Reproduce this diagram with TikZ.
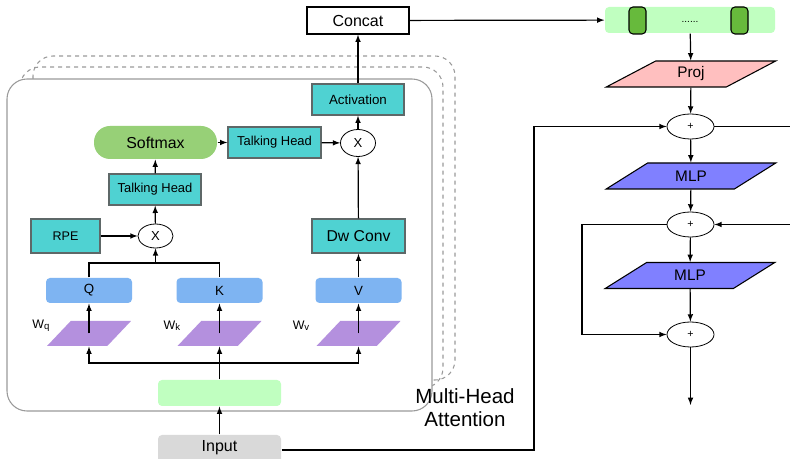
\documentclass[tikz,border=0pt]{standalone}
\usepackage{fontspec}
\setmainfont{Liberation Sans}
\usetikzlibrary{arrows}
\usetikzlibrary{shapes.geometric}

\definecolor{tealfill}{HTML}{4FD2D2}
\definecolor{tealline}{HTML}{5E6868}
\definecolor{softgreen}{HTML}{97D077}
\definecolor{qkvblue}{HTML}{7EB4F2}
\definecolor{parampurple}{HTML}{B490DE}
\definecolor{featgreen}{HTML}{C0FFC0}
\definecolor{inputgray}{HTML}{D9D9D9}
\definecolor{projpink}{HTML}{FFBFBF}
\definecolor{mlpblue}{HTML}{8080FF}
\definecolor{chipgreen}{HTML}{67BA3C}
\definecolor{boxgray}{HTML}{9A9A9A}

\newcommand{\wsub}[1]{W\raisebox{-0.6pt}{\fontsize{7.2}{8}\selectfont #1}}

\tikzset{
    opbox/.style={draw=tealline, fill=tealfill, line width=1pt, inner sep=0pt,
        minimum width=69pt, minimum height=23.25pt, font=\fontsize{9.7}{11}\selectfont},
    qkv/.style={fill=qkvblue, rounded corners=3pt, inner sep=0pt,
        minimum width=64.5pt, minimum height=18.75pt, font=\fontsize{10}{12}\selectfont},
    param/.style={trapezium, trapezium stretches=true, trapezium left angle=57,
        trapezium right angle=123, fill=parampurple, inner sep=2pt,
        minimum width=63pt, minimum height=18.75pt},
    ffn/.style={trapezium, trapezium stretches=true, trapezium left angle=39,
        trapezium right angle=141, draw, line width=0.8pt, inner sep=1pt,
        minimum width=127.5pt, minimum height=19.5pt, font=\fontsize{11.5}{13}\selectfont},
    mult/.style={ellipse, draw, line width=0.6pt, inner sep=0pt,
        minimum width=26.25pt, minimum height=20.25pt, font=\fontsize{9.8}{11}\selectfont},
    addop/.style={ellipse, draw, line width=0.6pt, inner sep=0pt,
        minimum width=35.25pt, minimum height=18.75pt, font=\fontsize{8}{9}\selectfont},
    chip/.style={draw, line width=0.8pt, fill=chipgreen, rounded corners=3pt,
        minimum width=12.75pt, minimum height=20.25pt, inner sep=0pt},
    wlabel/.style={font=\fontsize{9.3}{10}\selectfont},
    headbox/.style={draw=boxgray, line width=0.8pt, rounded corners=15pt},
}

\begin{document}
\begin{tikzpicture}[x=0.75pt, y=-0.75pt, >=latex, line width=0.9pt]
    \useasboundingbox (0,0) rectangle (790,459);

    % stacked heads
    \draw [headbox, dashed] (33,56) rectangle (455,380);
    \draw [headbox, dashed] (20,67) rectangle (443,388);
    \draw [headbox, fill=white] (7,79) rectangle (432,411);
    \node [align=center, font=\fontsize{15.4}{17.25}\selectfont] (mha) at (465,408) {Multi-Head\\Attention};

    % one head
    \node [draw, line width=1pt, minimum width=76.5pt, minimum height=20.25pt,
        inner sep=0pt, font=\fontsize{12}{14}\selectfont] (concat) at (358,20.5) {Concat};
    \node [opbox, font=\fontsize{10}{12}\selectfont] (act) at (358,99.5) {Activation};
    \node [mult, minimum height=20.25pt] (xv) at (358,143) {X};
    \node [opbox, minimum width=69.75pt] (th2) at (274.5,142.5) {Talking Head};
    \node [fill=softgreen, rounded corners=12pt, minimum width=92.25pt, minimum height=24.75pt,
        inner sep=0pt, font=\fontsize{11.9}{13}\selectfont] (softmax) at (155.5,142.5) {Softmax};
    \node [opbox] (th1) at (155,189.5) {Talking Head};
    \node [mult, minimum height=18pt] (xqk) at (155.5,236) {X};
    \node [opbox, minimum width=51.75pt, minimum height=25.5pt,
        font=\fontsize{9.4}{11}\selectfont] (rpe) at (65.5,236) {RPE};
    \node [opbox, minimum width=69.75pt, minimum height=25.5pt,
        font=\fontsize{11.8}{13}\selectfont] (dwconv) at (358.5,236) {Dw Conv};
    \node [qkv] (q) at (89,290.5) {Q};
    \node [qkv] (k) at (219.5,290.5) {K};
    \node [qkv] (v) at (358.5,290.5) {V};
    \node [param] (wq) at (89,333.5) {};
    \node [param] (wk) at (219.5,333.5) {};
    \node [param] (wv) at (358.5,333.5) {};
    \node [wlabel] (wqlabel) at (41,326) {\wsub{q}};
    \node [wlabel] (wklabel) at (172,326) {\wsub{k}};
    \node [wlabel] (wvlabel) at (301,326) {\wsub{v}};
    \node [fill=featgreen, rounded corners=3pt, minimum width=92.25pt, minimum height=19.5pt,
        inner sep=0pt] (feat) at (219.5,393) {};
    \node [fill=inputgray, rounded corners=3pt, minimum width=92.25pt, minimum height=22.5pt,
        inner sep=0pt, font=\fontsize{12}{14}\selectfont] (input) at (219.5,450) {};
    \node [font=\fontsize{12}{14}\selectfont] (inputtext) at (219.5,448) {Input};

    \coordinate (split) at (219.5,363);
    \coordinate (qkjoin) at (155.5,263);

    \path[->]
        (input) edge (feat)
        (wq.center) edge (q)
        (wk.center) edge (k)
        (wv.center) edge (v)
        (v) edge (dwconv)
        (qkjoin) edge (xqk)
        (rpe) edge (xqk)
        (xqk) edge (th1)
        (th1) edge (softmax)
        (softmax) edge (th2)
        (th2) edge (xv)
        (dwconv) edge (xv)
        (xv) edge (act)
        (act) edge (concat);
    \draw (feat) -- (split);
    \draw [->] (split) -| (wq.south);
    \draw [->] (split) -- (wk.south);
    \draw [->] (split) -| (wv.south);
    \draw (q.north) |- (qkjoin) -| (k.north);

    % token stage
    \node [fill=featgreen, rounded corners=3pt, minimum width=127.5pt, minimum height=19.5pt,
        inner sep=0pt] (tokens) at (690,20) {};
    \node [chip] (chip1) at (637.5,20.5) {};
    \node [chip] (chip2) at (739.5,20.5) {};
    \node [font=\fontsize{7.5}{8}\selectfont] (dots) at (690,22) {......};
    \node [ffn, fill=projpink] (proj) at (691,74) {Proj};
    \node [addop] (add1) at (690.5,126.5) {+};
    \node [ffn, fill=mlpblue] (mlp1) at (691,176) {MLP};
    \node [addop] (add2) at (690.5,224.5) {+};
    \node [ffn, fill=mlpblue] (mlp2) at (690,275.5) {MLP};
    \node [addop] (add3) at (690.5,334.5) {+};

    \coordinate (out) at (690.5,405);
    \coordinate (res1) at (534,126.5);
    \coordinate (res2) at (582,224.5);
    \coordinate (exit1) at (790,126.5);
    \coordinate (entry2) at (790,224.5);

    \path[->]
        (concat) edge (tokens)
        (tokens) edge (proj)
        (proj) edge (add1)
        (add1) edge (mlp1)
        (mlp1) edge (add2)
        (add2) edge (mlp2)
        (mlp2) edge (add3)
        (add3) edge (out)
        (entry2) edge (add2);
    \draw (add1) -- (exit1);
    \draw [->] (input) -| (res1) -- (add1);
    \draw [->] (add2) -- (res2) |- (add3);
\end{tikzpicture}
\end{document}
